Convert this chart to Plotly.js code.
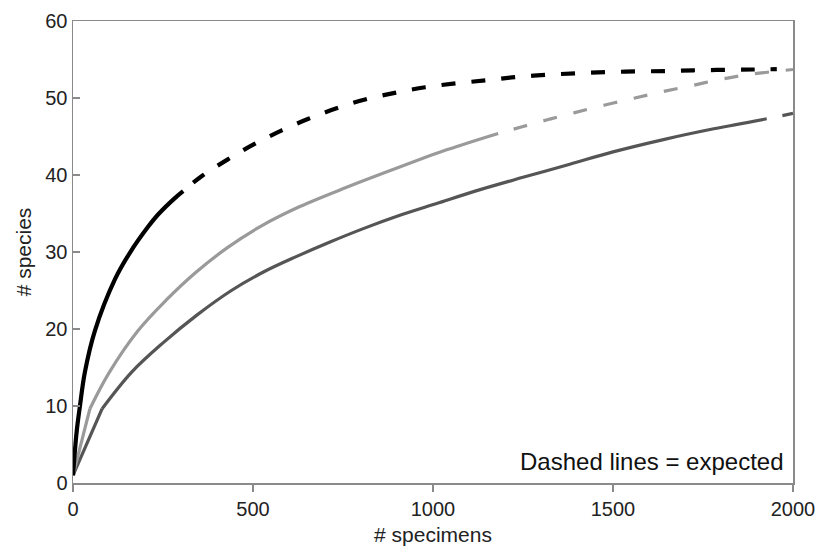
<!DOCTYPE html>
<html>
<head>
<meta charset="utf-8">
<script src="https://cdn.plot.ly/plotly-3.0.1.min.js"></script>
<style>
  html, body { margin: 0; padding: 0; background: #fff; }
  #chart { width: 819px; height: 547px; }
</style>
</head>
<body>
<div id="chart"></div>
<script>
// ---- data ----
const xTicks = [0, 500, 1000, 1500, 2000];
const yTicks = [0, 10, 20, 30, 40, 50, 60];

// Black series
const blackObsX = [0, 10, 19, 33, 61, 117, 158, 209, 237, 283, 306];
const blackObsY = [1, 6.6, 9.9, 14.4, 19.8, 26.5, 29.9, 33.3, 34.9, 37.0, 37.9];
const blackExpX = [306, 359, 429, 503, 580, 654, 728, 811, 897, 978, 1064, 1147, 1228, 1311, 1394, 1478, 1561, 1644, 1723, 1806, 1890, 1955];
const blackExpY = [37.9, 39.9, 42.0, 44.0, 45.8, 47.3, 48.6, 49.8, 50.7, 51.4, 51.9, 52.3, 52.7, 53.0, 53.2, 53.35, 53.45, 53.5, 53.6, 53.65, 53.7, 53.75];

// Light grey series
const lightObsX = [0, 47, 100, 181, 260, 340, 427, 520, 630, 760, 900, 1040, 1181];
const lightObsY = [1, 9.65, 14.3, 19.8, 23.8, 27.3, 30.5, 33.3, 35.9, 38.4, 40.9, 43.3, 45.4];
const lightExpX = [1181, 1250, 1320, 1394, 1478, 1561, 1635, 1718, 1797, 1885, 2000];
const lightExpY = [45.4, 46.3, 47.2, 48.1, 49.1, 50.0, 50.8, 51.6, 52.4, 53.1, 53.7];

// Dark grey series
const darkObsX = [0, 81, 163, 250, 344, 440, 529, 620, 714, 810, 910, 1010, 1131, 1250, 1380, 1500, 1640, 1780, 1927];
const darkObsY = [1, 9.65, 14.4, 18.2, 21.8, 25.0, 27.4, 29.4, 31.3, 33.1, 34.8, 36.3, 38.1, 39.7, 41.4, 43.0, 44.6, 46.0, 47.3];
const darkExpX = [1927, 2000];
const darkExpY = [47.3, 48.0];

const noteText = 'Dashed lines = expected';
const xTitle = '# specimens';
const yTitle = '# species';

// ---- styles ----
const cBlack = '#000000';
const cLight = '#9a9a9a';
const cDark = '#555555';

function tr(x, y, color, width, dash, shape) {
  return { x: x, y: y, type: 'scatter', mode: 'lines',
           line: { color: color, width: width, dash: dash, shape: shape, smoothing: 1 },
           hoverinfo: 'skip', showlegend: false };
}

const traces = [
  // dark grey: straight first step, then smooth
  tr(darkObsX.slice(0, 2), darkObsY.slice(0, 2), cDark, 3.2, 'solid', 'linear'),
  tr(darkObsX.slice(1), darkObsY.slice(1), cDark, 3.2, 'solid', 'spline'),
  tr(darkExpX, darkExpY, cDark, 3.2, '0px,16px,13px,1px', 'linear'),
  // light grey
  tr(lightObsX.slice(0, 2), lightObsY.slice(0, 2), cLight, 3.2, 'solid', 'linear'),
  tr(lightObsX.slice(1), lightObsY.slice(1), cLight, 3.2, 'solid', 'spline'),
  tr(lightExpX, lightExpY, cLight, 3.2, '0px,16px,14px,1px', 'spline'),
  // black
  tr(blackObsX, blackObsY, cBlack, 4.2, 'solid', 'spline'),
  tr(blackExpX, blackExpY, cBlack, 4.2, '0px,13px,14px,3px', 'spline')
];

const fam = 'Liberation Sans, Arial, sans-serif';
const axisCommon = {
  showline: true, linecolor: '#8a8a8a', linewidth: 1.5, mirror: true,
  showgrid: false, zeroline: false,
  tickcolor: '#8a8a8a', ticklen: 7, tickwidth: 1.5,
  tickfont: { family: fam, size: 20, color: '#222' }
};

const layout = {
  width: 819, height: 547,
  margin: { l: 73, r: 26, t: 21, b: 64 },
  paper_bgcolor: '#fff', plot_bgcolor: '#fff',
  font: { family: fam, color: '#222' },
  xaxis: Object.assign({}, axisCommon, {
    range: [0, 2000], tickvals: xTicks, ticktext: xTicks.map(String), ticks: 'outside',
    title: { text: xTitle, font: { family: fam, size: 21, color: '#222' }, standoff: 9 }
  }),
  yaxis: Object.assign({}, axisCommon, {
    range: [0, 60], tickvals: yTicks, ticktext: yTicks.map(String), ticks: 'inside',
    title: { text: yTitle, font: { family: fam, size: 21, color: '#222' }, standoff: 8 }
  }),
  annotations: [{
    text: noteText, xref: 'paper', yref: 'paper', x: 0.99, y: 0.046,
    xanchor: 'right', yanchor: 'middle', showarrow: false,
    font: { family: fam, size: 24, color: '#111' }
  }]
};

Plotly.newPlot('chart', traces, layout, { displayModeBar: false, staticPlot: true });
</script>
</body>
</html>
